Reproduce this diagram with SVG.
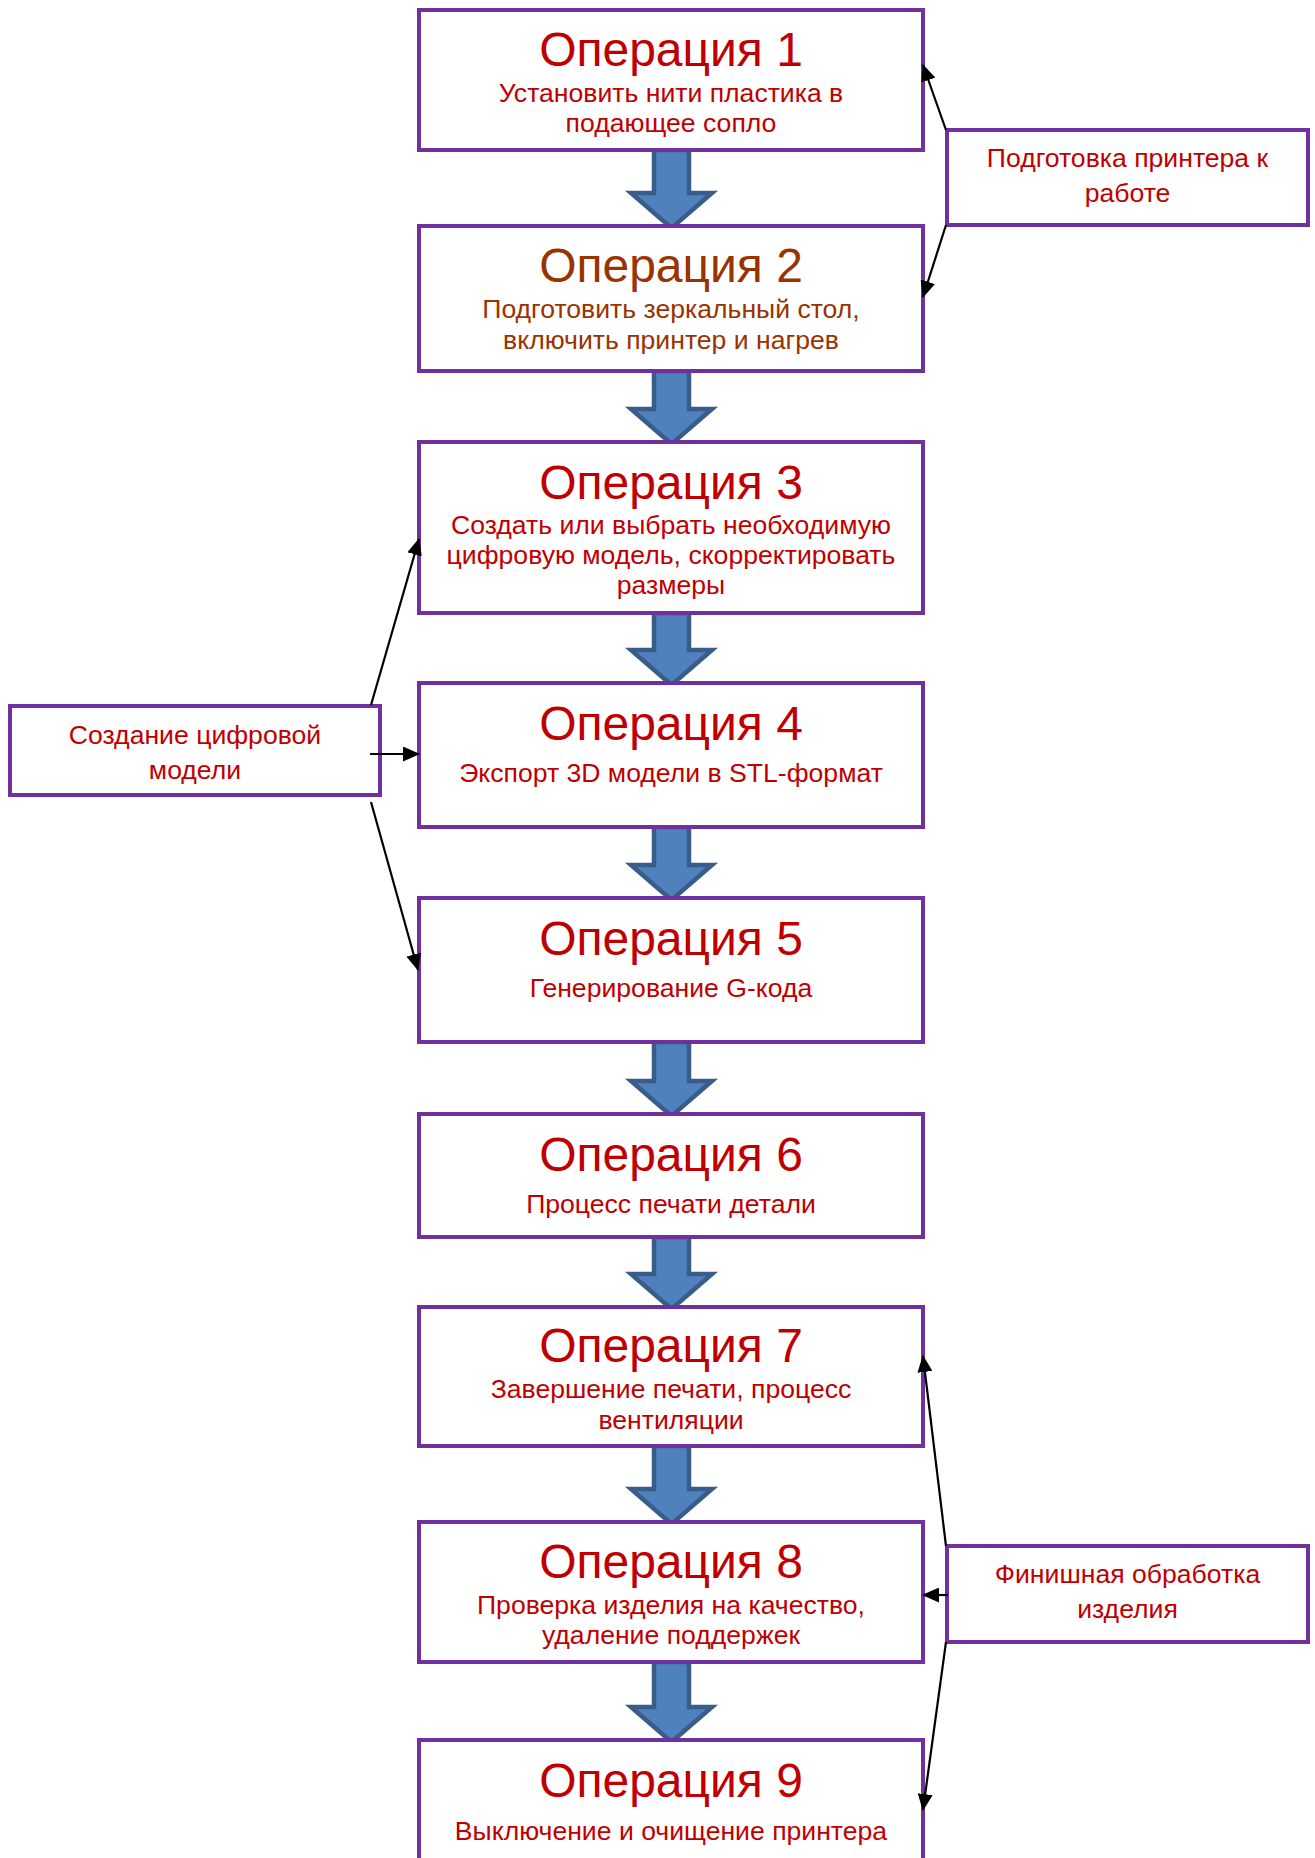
<svg xmlns="http://www.w3.org/2000/svg" width="1315" height="1858" viewBox="0 0 1315 1858">
<style>
.box{fill:#fff;stroke:#7030A0;stroke-width:4}
.t{font-family:"Liberation Sans",Arial,sans-serif;fill:#C00000;text-anchor:middle}
.h{font-size:48px}
.s{font-size:26.6px}
.br{fill:#993300}
.blk{fill:#4F81BD;stroke:#385D8A;stroke-width:4.5;stroke-linejoin:miter}
.con{stroke:#000;stroke-width:2.2;fill:none;marker-end:url(#ah)}
</style>
<defs>
<marker id="ah" markerUnits="userSpaceOnUse" markerWidth="17" markerHeight="15" refX="16" refY="7.5" orient="auto">
<path d="M0,0 L17,7.5 L0,15 z" fill="#000"/>
</marker>
</defs>
<rect width="1315" height="1858" fill="#fff"/>

<g id="flow-arrows">
<path class="blk" d="M654,150 H689 V193 H712 L671.5,228 L631,193 H654 Z"/>
<path class="blk" d="M654,371 H689 V409 H712 L671.5,444 L631,409 H654 Z"/>
<path class="blk" d="M654,613 H689 V650 H712 L671.5,685 L631,650 H654 Z"/>
<path class="blk" d="M654,827 H689 V865 H712 L671.5,900 L631,865 H654 Z"/>
<path class="blk" d="M654,1042 H689 V1081 H712 L671.5,1116 L631,1081 H654 Z"/>
<path class="blk" d="M654,1237 H689 V1274 H712 L671.5,1309 L631,1274 H654 Z"/>
<path class="blk" d="M654,1446 H689 V1489 H712 L671.5,1524 L631,1489 H654 Z"/>
<path class="blk" d="M654,1662 H689 V1707 H712 L671.5,1742 L631,1707 H654 Z"/>
</g>

<g id="op1">
<rect class="box" x="419" y="10" width="504" height="140"/>
<text class="t h" x="671" y="66">Операция 1</text>
<text class="t s" x="671" y="102">Установить нити пластика в</text>
<text class="t s" x="671" y="132">подающее сопло</text>
</g>
<g id="op2">
<rect class="box" x="419" y="226" width="504" height="145"/>
<text class="t h br" x="671" y="282">Операция 2</text>
<text class="t s br" x="671" y="318">Подготовить зеркальный стол,</text>
<text class="t s br" x="671" y="349">включить принтер и нагрев</text>
</g>
<g id="op3">
<rect class="box" x="419" y="442" width="504" height="171"/>
<text class="t h" x="671" y="499">Операция 3</text>
<text class="t s" x="671" y="534">Создать или выбрать необходимую</text>
<text class="t s" x="671" y="564">цифровую модель, скорректировать</text>
<text class="t s" x="671" y="594">размеры</text>
</g>
<g id="op4">
<rect class="box" x="419" y="683" width="504" height="144"/>
<text class="t h" x="671" y="740">Операция 4</text>
<text class="t s" x="671" y="782">Экспорт 3D модели в STL-формат</text>
</g>
<g id="op5">
<rect class="box" x="419" y="898" width="504" height="144"/>
<text class="t h" x="671" y="955">Операция 5</text>
<text class="t s" x="671" y="997">Генерирование G-кода</text>
</g>
<g id="op6">
<rect class="box" x="419" y="1114" width="504" height="123"/>
<text class="t h" x="671" y="1171">Операция 6</text>
<text class="t s" x="671" y="1213">Процесс печати детали</text>
</g>
<g id="op7">
<rect class="box" x="419" y="1307" width="504" height="139"/>
<text class="t h" x="671" y="1362">Операция 7</text>
<text class="t s" x="671" y="1398">Завершение печати, процесс</text>
<text class="t s" x="671" y="1429">вентиляции</text>
</g>
<g id="op8">
<rect class="box" x="419" y="1522" width="504" height="140"/>
<text class="t h" x="671" y="1578">Операция 8</text>
<text class="t s" x="671" y="1614">Проверка изделия на качество,</text>
<text class="t s" x="671" y="1644">удаление поддержек</text>
</g>
<g id="op9">
<rect class="box" x="419" y="1740" width="504" height="140"/>
<text class="t h" x="671" y="1797">Операция 9</text>
<text class="t s" x="671" y="1840">Выключение и очищение принтера</text>
</g>

<g id="prep">
<rect class="box" x="947" y="130" width="361" height="95"/>
<text class="t s" x="1127.5" y="167">Подготовка принтера к</text>
<text class="t s" x="1127.5" y="202">работе</text>
</g>
<g id="model">
<rect class="box" x="10" y="706" width="370" height="89"/>
<text class="t s" x="195" y="744">Создание цифровой</text>
<text class="t s" x="195" y="779">модели</text>
</g>
<g id="finish">
<rect class="box" x="947" y="1546" width="361" height="96"/>
<text class="t s" x="1127.5" y="1583">Финишная обработка</text>
<text class="t s" x="1127.5" y="1618">изделия</text>
</g>

<g id="connectors">
<line class="con" x1="946" y1="130" x2="923" y2="65"/>
<line class="con" x1="946" y1="225" x2="923" y2="297"/>
<line class="con" x1="371" y1="705" x2="419" y2="539"/>
<line class="con" x1="370" y1="754" x2="419" y2="754"/>
<line class="con" x1="371" y1="802" x2="418" y2="970"/>
<line class="con" x1="946" y1="1546" x2="923" y2="1356"/>
<line class="con" x1="948" y1="1595" x2="923" y2="1595"/>
<line class="con" x1="946" y1="1642" x2="923" y2="1810"/>
</g>
</svg>
